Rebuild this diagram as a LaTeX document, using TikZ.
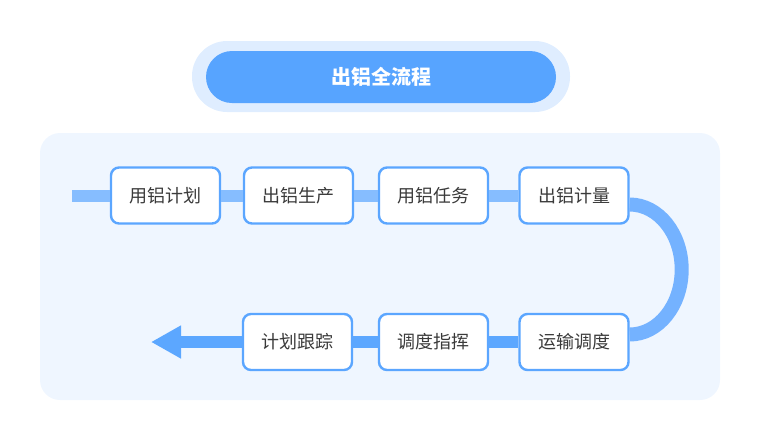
\documentclass[tikz,border=0pt]{standalone}
\usepackage{fontspec}
\newfontfamily\cjk{Noto Sans CJK SC}
\usepackage{tikz}
\usetikzlibrary{arrows.meta}

\begin{document}
\begin{tikzpicture}[x=1pt,y=-1pt,
    stepbox/.style={draw=boxline,fill=white,line width=2.4pt,rounded corners=8pt,
      minimum width=109pt,minimum height=56pt,inner sep=0pt,
      font=\cjk\fontsize{18}{21}\selectfont,text=textgray},
    flow/.style={line width=12pt,color=#1},
  ]
  \definecolor{panelbg}{HTML}{EFF6FF}
  \definecolor{pillout}{HTML}{DFEDFF}
  \definecolor{pillin}{HTML}{57A4FF}
  \definecolor{boxline}{HTML}{5BA6FF}
  \definecolor{textgray}{HTML}{3A3A3A}
  \definecolor{flowlight}{HTML}{86BDFF}
  \definecolor{flowmid}{HTML}{74B2FF}
  \definecolor{flowdark}{HTML}{5CA7FF}
  \useasboundingbox (0,0) rectangle (760,440);
  % title
  \fill[pillout,rounded corners=35pt] (192,41) rectangle (570,112);
  \node[fill=pillin,rounded corners=26pt,minimum width=350pt,minimum height=52pt,
    font=\cjk\bfseries\fontsize{20}{24}\selectfont,text=white] (title) at (381,77) {出铝全流程};
  % panel
  \fill[panelbg,rounded corners=20pt] (40,133) rectangle (720,400);
  % steps
  \foreach \name/\x/\y/\txt in {p1/165.5/195.5/用铝计划, p2/298.5/195.5/出铝生产,
      p3/433.5/195.5/用铝任务, p4/574/195.5/出铝计量,
      p5/574/342/运输调度, p6/433.5/342/调度指挥, p7/297.5/342/计划跟踪}{%
    \node[stepbox] (\name) at (\x,\y) {\txt};
  }
  % connectors
  \coordinate (start) at (72,195.5);
  \coordinate (finish) at (151,342);
  \draw[flow=flowlight] (start) -- (p1.west);
  \draw[flow=flowlight] (p1.east) -- (p2.west);
  \draw[flow=flowlight] (p2.east) -- (p3.west);
  \draw[flow=flowlight] (p3.east) -- (p4.west);
  \draw[flow=flowmid,line width=14pt] ([yshift=-9pt]p4.east) arc[start angle=-90,end angle=90,x radius=52,y radius=65];
  \draw[flow=flowdark] (p5.west) -- (p6.east);
  \draw[flow=flowdark] (p6.west) -- (p7.east);
  \draw[flow=flowdark,-{Triangle[length=30pt,width=31pt]}] (p7.west) -- (finish);
\end{tikzpicture}
\end{document}
